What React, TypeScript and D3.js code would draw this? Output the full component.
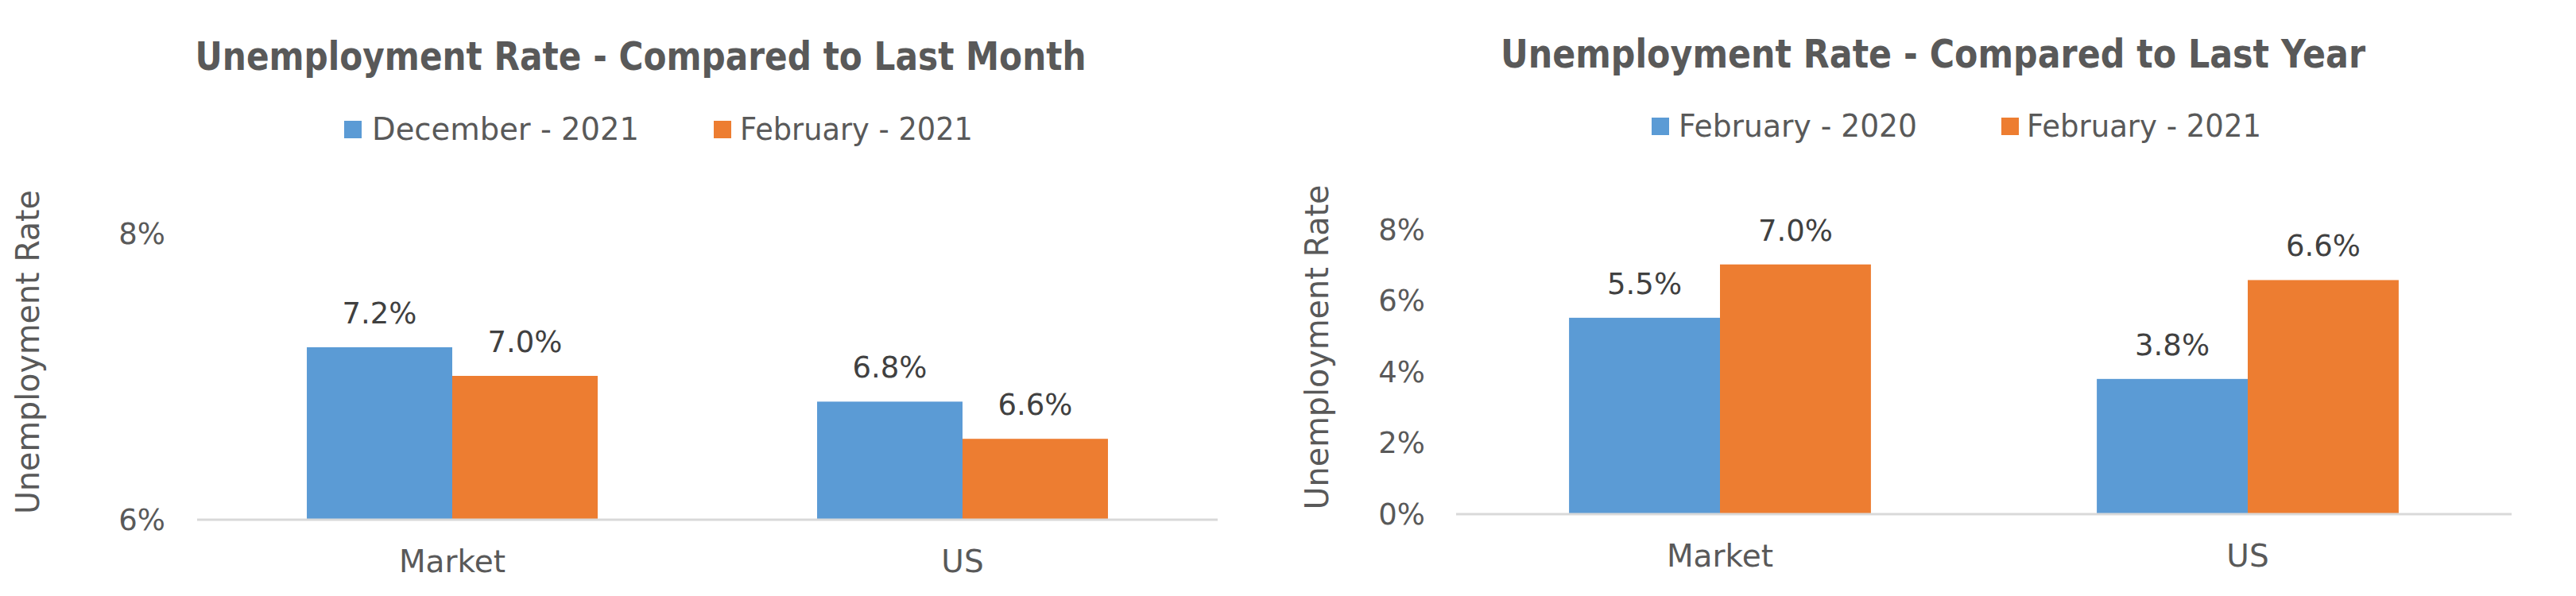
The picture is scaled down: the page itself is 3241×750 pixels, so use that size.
import React from "react";
import * as d3 from "d3";

// ---------- data ----------
const categories = ["Market", "US"];

const monthTitle = "Unemployment Rate - Compared to Last Month";
const monthSeries = ["December - 2021", "February - 2021"];
const december2021 = [7.2, 6.82];
const february2021 = [7.0, 6.56];
const monthTicks = [6, 8];

const yearTitle = "Unemployment Rate - Compared to Last Year";
const yearSeries = ["February - 2020", "February - 2021"];
const february2020 = [5.5, 3.78];
const february2021b = [7.0, 6.56];
const yearTicks = [0, 2, 4, 6, 8];

const yAxisTitle = "Unemployment Rate";

// ---------- style ----------
const COLORS = ["#5B9BD5", "#ED7D31"];
const FONT = "'Century Gothic', 'DejaVu Sans', sans-serif";
const TEXT = "#595959";
const LABEL = "#404040";

type Layout = {
  titleX: number; titleY: number; titleW: number;
  legendTop: number; legendBase: number;
  legend: { sq: number; tx: number; tw: number }[];
  x0: number; x1: number; yBase: number; yTop: number;
  domain: [number, number]; tickX: number;
  yTitleX: number; yTitleY: number; yTitleW: number;
  catBase: number; pad: number;
};

const leftLayout: Layout = {
  titleX: 806, titleY: 88, titleW: 1121,
  legendTop: 152, legendBase: 176,
  legend: [{ sq: 433, tx: 468, tw: 336 }, { sq: 898, tx: 931, tw: 293 }],
  x0: 248, x1: 1532, yBase: 653, yTop: 293,
  domain: [6, 8], tickX: 208,
  yTitleX: 49, yTitleY: 443, yTitleW: 408,
  catBase: 720, pad: 0.43,
};

const rightLayout: Layout = {
  titleX: 2432, titleY: 85, titleW: 1088,
  legendTop: 148, legendBase: 172,
  legend: [{ sq: 2078, tx: 2112, tw: 300 }, { sq: 2518, tx: 2550, tw: 295 }],
  x0: 1832, x1: 3160, yBase: 646, yTop: 288,
  domain: [0, 8], tickX: 1793,
  yTitleX: 1671, yTitleY: 437, yTitleW: 409,
  catBase: 713, pad: 0.428,
};

function BarChart(props: {
  title: string; series: string[]; values: number[][]; ticks: number[]; L: Layout;
}) {
  const { title, series, values, ticks, L } = props;
  const x = d3.scaleBand<string>().domain(categories).range([L.x0, L.x1])
    .paddingInner(L.pad).paddingOuter(L.pad / 2);
  const xs = d3.scaleBand<string>().domain(series).range([0, x.bandwidth()]);
  const y = d3.scaleLinear().domain(L.domain).range([L.yBase, L.yTop]);
  const fmt = d3.format(".1f");

  return (
    <g fontFamily={FONT}>
      <text x={L.titleX} y={L.titleY} textAnchor="middle" fontSize={49} fontWeight="bold"
        fill={TEXT} textLength={L.titleW} lengthAdjust="spacingAndGlyphs">{title}</text>

      {series.map((s, i) => (
        <g key={s}>
          <rect x={L.legend[i].sq} y={L.legendTop} width={22} height={22} fill={COLORS[i]} />
          <text x={L.legend[i].tx} y={L.legendBase} fontSize={39} fill={TEXT}
            textLength={L.legend[i].tw} lengthAdjust="spacingAndGlyphs">{s}</text>
        </g>
      ))}

      <text transform={`translate(${L.yTitleX},${L.yTitleY}) rotate(-90)`} textAnchor="middle"
        fontSize={40} fill={TEXT} textLength={L.yTitleW} lengthAdjust="spacingAndGlyphs">{yAxisTitle}</text>

      {ticks.map((t) => (
        <text key={t} x={L.tickX} y={y(t) + 13.5} textAnchor="end" fontSize={37} fill={TEXT}>{t}%</text>
      ))}

      {series.map((s, si) =>
        categories.map((c, ci) => {
          const v = values[si][ci];
          const bx = (x(c) as number) + (xs(s) as number);
          const by = y(v);
          return (
            <g key={s + c}>
              <rect x={bx} y={by} width={xs.bandwidth()} height={L.yBase - by} fill={COLORS[si]} />
              <text x={bx + xs.bandwidth() / 2} y={by - 30} textAnchor="middle" fontSize={37}
                fill={LABEL}>{fmt(v)}%</text>
            </g>
          );
        })
      )}

      <line x1={L.x0} x2={L.x1} y1={L.yBase + 1} y2={L.yBase + 1} stroke="#D9D9D9" strokeWidth={3} />

      {categories.map((c) => (
        <text key={c} x={(x(c) as number) + x.bandwidth() / 2} y={L.catBase} textAnchor="middle"
          fontSize={39} fill={TEXT}>{c}</text>
      ))}
    </g>
  );
}

export default function App() {
  return (
    <svg width={3241} height={750} style={{ position: "absolute", left: 0, top: 0, background: "#fff" }}>
      <rect x={0} y={0} width={3241} height={750} fill="#fff" />
      <BarChart title={monthTitle} series={monthSeries} values={[december2021, february2021]}
        ticks={monthTicks} L={leftLayout} />
      <BarChart title={yearTitle} series={yearSeries} values={[february2020, february2021b]}
        ticks={yearTicks} L={rightLayout} />
    </svg>
  );
}
